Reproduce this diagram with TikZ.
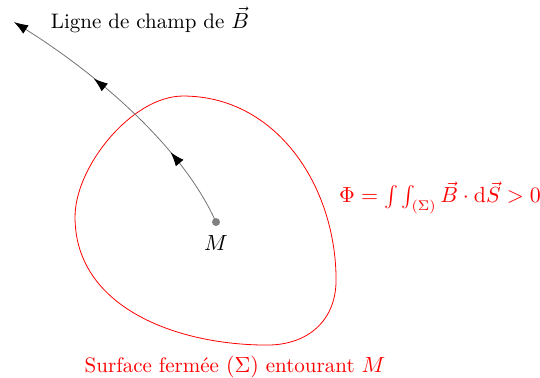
\documentclass[tikz,border=0pt]{standalone}
\usepackage{amsmath,amssymb}
\usepackage{tikz}
\usetikzlibrary{arrows.meta,decorations.markings,positioning}

\begin{document}
\begin{tikzpicture}[line join=round,line cap=round,
    every node/.style={font=\fontsize{10.5}{12.6}\selectfont},
    fieldline/.style={black!55,thin,-{Latex[length=7pt,width=5pt,black]},
      postaction={decorate},
      decoration={markings,
        mark=at position 0.29 with {\arrow[black]{Latex[length=7pt,width=5pt]}},
        mark=at position 0.66 with {\arrow[black]{Latex[length=7pt,width=5pt]}}}},
    surface/.style={red,thin}]
      \useasboundingbox (0,0) rectangle (9.487,6.624);
      \coordinate (M) at (3.795,2.723);
      \coordinate (E) at (0.246,6.237);
      % surface fermee
      \coordinate (T) at (3.215,4.937);
      \coordinate (R) at (5.904,1.704);
      \coordinate (Bt) at (4.691,0.562);
      \coordinate (L) at (1.318,2.811);
      \draw[surface] (T) to[out=0,in=90] (R) to[out=-90,in=0,looseness=1.1] (Bt)
        to[out=180,in=-90] (L) to[out=90,in=180,looseness=0.8] (T);
      % ligne de champ
      \draw[fieldline] (M) .. controls (3.15,4.15) and (1.55,5.42) .. (E);
      \fill[black!50] (M) circle (2pt);
      \node[below=3pt of M] (lM) {$M$};
      \node (lB) at (2.636,6.272) {Ligne de champ de $\vec{B}$};
      \node[red] (phi) at (7.73,3.15) {$\Phi=\int\int_{(\Sigma)}\vec{B}\cdot\mathrm{d}\vec{S}>0$};
      \node[red] (sig) at (4.129,0.17) {Surface ferm\'ee $(\Sigma)$ entourant $M$};
\end{tikzpicture}
\end{document}
